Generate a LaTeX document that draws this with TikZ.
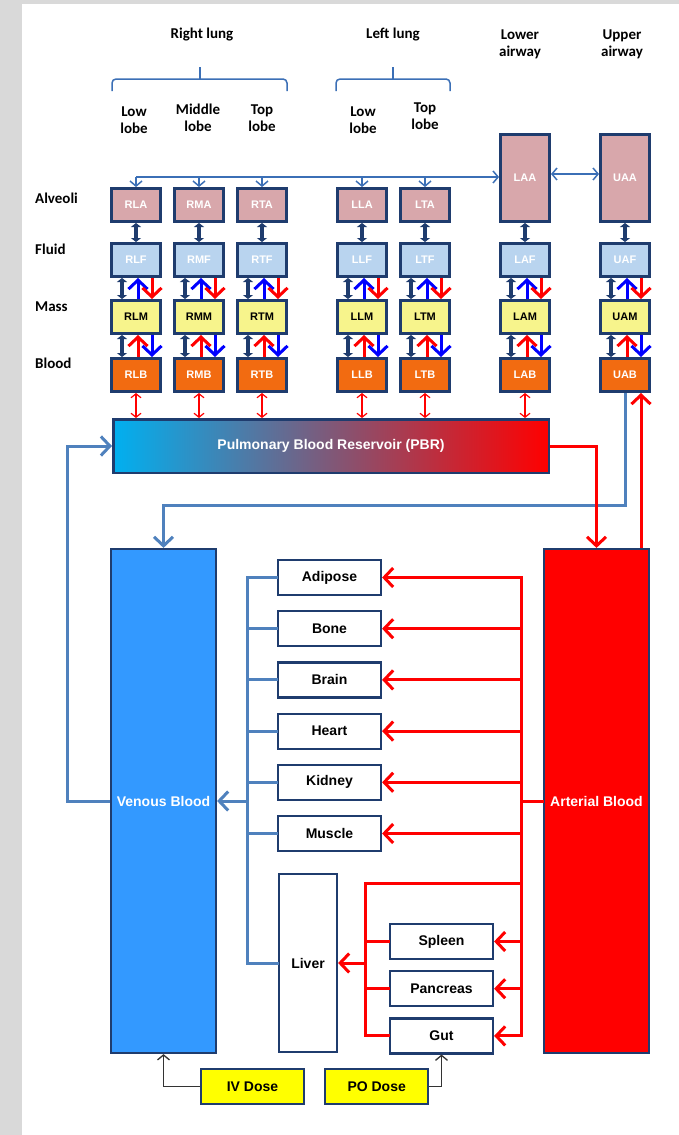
\documentclass[tikz,border=0pt]{standalone}
\usepackage{fontspec}
\setmainfont{Liberation Sans}
\newfontfamily\calfont{Carlito}
\usepackage{xcolor}
\usepackage{tikz}
\usetikzlibrary{arrows.meta, positioning}
\definecolor{PanelGray}{HTML}{D9D9D9}
\definecolor{NavyEdge}{HTML}{1F3C6E}
\definecolor{SteelLine}{HTML}{4F81BD}
\definecolor{FeedBlue}{HTML}{3B6FB6}
\definecolor{AlvFill}{HTML}{D8A7AB}
\definecolor{FluidFill}{HTML}{B9D4EF}
\definecolor{MassFill}{HTML}{F7F48C}
\definecolor{BloodFill}{HTML}{F26B11}
\definecolor{VenFill}{HTML}{3399FF}
\definecolor{ArtRed}{HTML}{FF0000}
\definecolor{FlowBlue}{HTML}{0000FF}
\definecolor{DoseFill}{HTML}{FFFF00}
\definecolor{PbrLeft}{HTML}{00B0F0}

\begin{document}
\begin{tikzpicture}[x=1pt, y=-1pt,
  lobe/.style={draw=NavyEdge, line width=3pt, minimum width=49pt, minimum height=33pt, inner sep=0pt, font=\fontsize{11}{13}\selectfont\bfseries},
  alv/.style={lobe, fill=AlvFill, text=white},
  fld/.style={lobe, fill=FluidFill, text=white},
  mass/.style={lobe, fill=MassFill, text=black},
  bld/.style={lobe, fill=BloodFill, text=white},
  organ/.style={draw=NavyEdge, line width=2.2pt, fill=white, minimum width=103pt, minimum height=35pt, inner sep=0pt, font=\fontsize{14}{16}\selectfont\bfseries},
  dose/.style={organ, fill=DoseFill},
  pool/.style={draw=NavyEdge, line width=2.2pt, minimum width=105pt, minimum height=504pt, inner sep=0pt, text=white, font=\fontsize{14}{16}\selectfont\bfseries},
  hdr/.style={font=\calfont\bfseries\fontsize{15}{17}\selectfont, align=center, inner sep=0pt},
  rowlbl/.style={hdr, anchor=west},
  brc/.style={draw=FeedBlue, line width=1.5pt, rounded corners=4pt},
  feedline/.style={draw=FeedBlue, line width=1.5pt, -{Straight Barb[length=5pt,width=12pt]}},
  xchg/.style={draw=NavyEdge, line width=4.5pt, {Triangle[length=4pt,width=10pt]}-{Triangle[length=4pt,width=10pt]}},
  flow/.style={line width=3pt, -{Straight Barb[length=9pt,width=19pt]}},
  pbrx/.style={draw=ArtRed, line width=1.2pt, {Straight Barb[length=4pt,width=10pt]}-{Straight Barb[length=4pt,width=10pt]}},
  vline/.style={draw=SteelLine, line width=3pt, line cap=rect},
  aline/.style={draw=ArtRed, line width=3pt, line cap=rect},
  ven/.style={draw=SteelLine, line width=3pt, -{Straight Barb[length=9pt,width=19pt]}},
  art/.style={draw=ArtRed, line width=3pt, -{Straight Barb[length=9pt,width=19pt]}},
  dosearr/.style={draw=black!80, line width=1.3pt, -{Straight Barb[length=5pt,width=12pt]}}
]
\fill[PanelGray] (0,0) rectangle (679,1135);
\fill[white] (22,4) rectangle (679,1135);
\useasboundingbox (0,0) rectangle (679,1135);

% headers
\node[hdr] (rlung) at (202,35) {Right lung};
\node[hdr] (llung) at (393,35) {Left lung};
\node[hdr] (lair) at (520,44) {Lower\\airway};
\node[hdr] (uair) at (622,44) {Upper\\airway};
\node[hdr] (rlow) at (134,120) {Low\\lobe};
\node[hdr] (rmid) at (198,118) {Middle\\lobe};
\node[hdr] (rtop) at (262,118) {Top\\lobe};
\node[hdr] (llow) at (363,120) {Low\\lobe};
\node[hdr] (ltop) at (425,116) {Top\\lobe};
\draw[brc] (112,91) |- (200,79);
\draw[brc] (287,91) |- (200,79);
\draw[brc] (200,79) -- (200,67);
\draw[brc] (336,91) |- (393,79);
\draw[brc] (450,91) |- (393,79);
\draw[brc] (393,79) -- (393,67);

\node[rowlbl] (lalv) at (35,198) {Alveoli};
\node[rowlbl] (lfld) at (35,249) {Fluid};
\node[rowlbl] (lmass) at (35,307) {Mass};
\node[rowlbl] (lbld) at (35,363) {Blood};

% lung compartments
\node[alv] (RLA) at (136,205) {RLA};
\node[alv, right=11pt of RLA] (RMA) {RMA};
\node[alv, right=11pt of RMA] (RTA) {RTA};
\node[alv, right=48pt of RTA] (LLA) {LLA};
\node[alv, right=11pt of LLA] (LTA) {LTA};
\node[fld, below=19pt of RLA] (RLF) {RLF};
\node[fld, below=19pt of RMA] (RMF) {RMF};
\node[fld, below=19pt of RTA] (RTF) {RTF};
\node[fld, below=19pt of LLA] (LLF) {LLF};
\node[fld, below=19pt of LTA] (LTF) {LTF};
\node[fld, right=48pt of LTF] (LAF) {LAF};
\node[fld, right=48pt of LAF] (UAF) {UAF};
\node[alv, above=19pt of LAF, minimum height=87pt] (LAA) {LAA};
\node[alv, above=19pt of UAF, minimum height=87pt] (UAA) {UAA};
\node[mass, below=21pt of RLF] (RLM) {RLM};
\node[mass, below=21pt of RMF] (RMM) {RMM};
\node[mass, below=21pt of RTF] (RTM) {RTM};
\node[mass, below=21pt of LLF] (LLM) {LLM};
\node[mass, below=21pt of LTF] (LTM) {LTM};
\node[mass, below=21pt of LAF] (LAM) {LAM};
\node[mass, below=21pt of UAF] (UAM) {UAM};
\node[bld, below=22pt of RLM] (RLB) {RLB};
\node[bld, below=22pt of RMM] (RMB) {RMB};
\node[bld, below=22pt of RTM] (RTB) {RTB};
\node[bld, below=22pt of LLM] (LLB) {LLB};
\node[bld, below=22pt of LTM] (LTB) {LTB};
\node[bld, below=22pt of LAM] (LAB) {LAB};
\node[bld, below=22pt of UAM] (UAB) {UAB};

\node[draw=NavyEdge, line width=2.5pt, left color=PbrLeft, right color=ArtRed, minimum width=435.5pt, minimum height=53.5pt, text=white, font=\fontsize{14}{16}\selectfont\bfseries] (PBR) at (331,446) {Pulmonary Blood Reservoir (PBR)};

% body
\node[pool, fill=VenFill] (VB) at (163.5,801) {Venous Blood};
\node[pool, fill=ArtRed] (AB) at (596.5,801) {Arterial Blood};
\node[organ] (Adipose) at (329.5,577.5) {Adipose};
\node[organ, below=14pt of Adipose] (Bone) {Bone};
\node[organ, below=14pt of Bone] (Brain) {Brain};
\node[organ, below=14pt of Brain] (Heart) {Heart};
\node[organ, below=14pt of Heart] (Kidney) {Kidney};
\node[organ, below=14pt of Kidney] (Muscle) {Muscle};
\node[organ, minimum width=58pt, minimum height=178pt] (Liver) at (308,963) {Liver};
\node[organ] (Spleen) at (441.5,941.5) {Spleen};
\node[organ, below=10pt of Spleen] (Pancreas) {Pancreas};
\node[organ, below=10pt of Pancreas] (Gut) {Gut};
\node[dose] (IV) at (252.5,1086.5) {IV Dose};
\node[dose, right=19pt of IV] (PO) {PO Dose};

% airways
\coordinate (feed) at (136,177);
\draw[feedline] (feed) -- (feed -| LAA.west);
\foreach \lb in {RLA,RMA,RTA,LLA,LTA}
  \draw[feedline] (feed -| \lb) -- (\lb);
\draw[feedline, {Straight Barb[length=5pt,width=12pt]}-{Straight Barb[length=5pt,width=12pt]}] ([yshift=4pt]LAA.east) -- ([yshift=4pt]UAA.west);

\foreach \col in {RL,RM,RT,LL,LT,LA,UA} {
  \draw[xchg] (\col A) -- (\col F);
  \draw[xchg] ([xshift=-14pt]\col F.south) -- ([xshift=-14pt]\col M.north);
  \draw[xchg] ([xshift=-14pt]\col M.south) -- ([xshift=-14pt]\col B.north);
  \draw[flow, FlowBlue] ([xshift=2pt]\col M.north) -- ([xshift=2pt]\col F.south);
  \draw[flow, ArtRed] ([xshift=16pt]\col F.south) -- ([xshift=16pt]\col M.north);
  \draw[flow, ArtRed] ([xshift=2pt]\col B.north) -- ([xshift=2pt]\col M.south);
  \draw[flow, FlowBlue] ([xshift=16pt]\col M.south) -- ([xshift=16pt]\col B.north);
}
\foreach \col in {RL,RM,RT,LL,LT,LA}
  \draw[pbrx] (\col B) -- (\col B |- PBR.north);

% circulation
\coordinate (uaup) at ([xshift=16pt]UAB.south);
\draw[ven] (UAB.south) -- ++(0,112) -| (VB.north);
\draw[art] (uaup |- AB.north) -- (uaup);
\draw[art] (PBR.east) -| (AB.north);
\draw[ven] (VB.west) -- ++(-42,0) |- (PBR.west);

\coordinate (vsplit) at ([xshift=30pt]VB.east);
\draw[vline] (Adipose.west) -| (vsplit) |- (Liver.west);
\foreach \org in {Bone,Brain,Heart,Kidney,Muscle}
  \draw[vline] (\org.west) -- (\org.west -| vsplit);
\draw[ven] (vsplit) -- (VB.east);

\coordinate (asplit) at ([xshift=-21pt]AB.west);
\coordinate (hsplit) at (365,883);
\draw[aline] (AB.west) -- (asplit);
\draw[aline] (asplit |- Adipose.east) -- (asplit |- Gut.east);
\foreach \org in {Adipose,Bone,Brain,Heart,Kidney,Muscle,Spleen,Pancreas,Gut}
  \draw[art] (asplit |- \org.east) -- (\org.east);
\draw[aline] (asplit |- hsplit) -- (hsplit) -- (hsplit |- Gut.west);
\foreach \org in {Spleen,Pancreas,Gut}
  \draw[aline] (hsplit |- \org.west) -- (\org.west);
\draw[art] (hsplit |- Liver.east) -- (Liver.east);

\draw[dosearr] (IV.west) -| (VB.south);
\draw[dosearr] (PO.east) -| (Gut.south);
\end{tikzpicture}
\end{document}
